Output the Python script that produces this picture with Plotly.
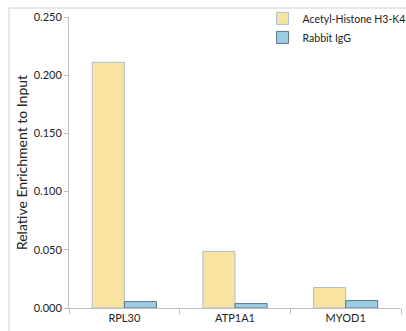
import plotly.graph_objects as go

categories = ["RPL30", "ATP1A1", "MYOD1"]
acetyl_h3k4 = [0.211, 0.0486, 0.0176]
rabbit_igg = [0.0055, 0.0038, 0.0064]
series_names = ["Acetyl-Histone H3-K4", "Rabbit IgG"]
y_ticks = [0.0, 0.05, 0.10, 0.15, 0.20, 0.25]

FONT = "Lato, 'Open Sans', sans-serif"

fig = go.Figure()
fig.add_trace(go.Bar(
    x=categories, y=acetyl_h3k4, name=series_names[0],
    marker=dict(color="#f8e3a0", line=dict(color="#a9bed6", width=1)),
))
fig.add_trace(go.Bar(
    x=categories, y=rabbit_igg, name=series_names[1],
    marker=dict(color="#9dcde6", line=dict(color="#5d7585", width=1)),
))

fig.update_layout(
    width=406, height=331,
    margin=dict(l=69, r=5, t=17, b=23, autoexpand=False),
    paper_bgcolor="white", plot_bgcolor="white",
    font=dict(family=FONT, size=11, color="#222222"),
    barmode="group", bargap=0.42, bargroupgap=0,
    showlegend=True,
    legend=dict(x=0.583, y=1.045, xanchor="left", yanchor="top",
                bgcolor="rgba(0,0,0,0)", font=dict(size=10.5),
                itemwidth=30),
    xaxis=dict(showline=True, linecolor="#bfbfbf", linewidth=1,
               ticks="outside", tickson="boundaries", ticklen=5,
               tickcolor="#bfbfbf", showgrid=False,
               tickfont=dict(size=11)),
    yaxis=dict(range=[0, 0.25], tickvals=y_ticks, tickformat=".3f",
               showline=True, linecolor="#bfbfbf", linewidth=1,
               ticks="outside", ticklen=4, tickcolor="#bfbfbf",
               showgrid=False, zeroline=False,
               tickfont=dict(size=11),
               title=dict(text="Relative Enrichment to Input",
                          font=dict(size=14), standoff=2)),
)
# outer chart frame (only top and left edges fall inside the view)
fig.add_shape(type="line", xref="paper", yref="paper",
              xsizemode="pixel", ysizemode="pixel",
              xanchor=0, yanchor=1,
              x0=-60, x1=400, y0=9, y1=9,
              line=dict(color="#d0d0d0", width=1))
fig.add_shape(type="line", xref="paper", yref="paper",
              xsizemode="pixel", ysizemode="pixel",
              xanchor=0, yanchor=1,
              x0=-60, x1=-60, y0=9, y1=-340,
              line=dict(color="#d0d0d0", width=1))

fig.write_html("out.html")
